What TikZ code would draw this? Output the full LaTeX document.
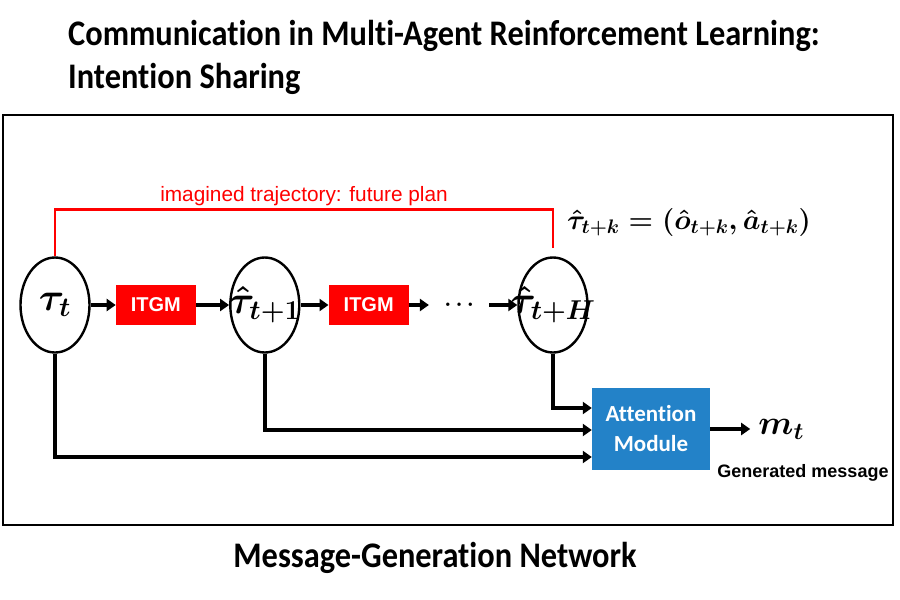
\RequirePackage{fix-cm}
\documentclass[tikz,border=0pt]{standalone}
\usepackage{amsmath,amssymb}
\usepackage{fontspec}
\usepackage{tikz}
\usetikzlibrary{arrows.meta,positioning,calc,shapes.geometric}
\newfontfamily\cfont[Ligatures=NoCommon]{Carlito}
\newfontfamily\hfont[FakeStretch=0.9,Ligatures=NoCommon]{Carlito}
\newfontfamily\afont{Liberation Sans}
\definecolor{itgmred}{HTML}{FF0000}
\definecolor{attnblue}{HTML}{2382C8}
\tikzset{
  state/.style={ellipse,draw,line width=2.4pt,minimum width=69pt,minimum height=95pt,inner sep=0pt},
  itgm/.style={fill=itgmred,text=white,font=\afont\bfseries\fontsize{20}{20}\selectfont,minimum width=80pt,minimum height=40pt,inner sep=0pt},
  attn/.style={fill=attnblue,text=white,font=\cfont\bfseries\fontsize{23}{30}\selectfont,align=center,minimum width=118pt,minimum height=82pt,inner sep=0pt},
  flow/.style={-{Triangle[length=9pt,width=12pt]},line width=3.4pt},
  planline/.style={draw=itgmred,line width=2.8pt},
  mathlbl/.style={font=\boldmath\fontsize{39}{39}\selectfont,inner sep=0pt},
  heading/.style={font=\hfont\bfseries\fontsize{36}{43}\selectfont,inner sep=0pt}
}

\begin{document}
\begin{tikzpicture}[x=1pt,y=-1pt]
  \useasboundingbox (0,0) rectangle (900,600);
  \node[heading,anchor=base west,align=left] (title) at (68,88) {Communication in Multi-Agent Reinforcement Learning:\\Intention Sharing};
  \draw[line width=2.8pt] (3,115) rectangle (893,525);
  % trajectory chain
  \node[state,label={[mathlbl]center:$\tau_t$}] (tau0) at (55,305) {};
  \node[itgm,right=25pt of tau0] (itgm1) {ITGM};
  \node[state,right=33pt of itgm1,label={[mathlbl]center:$\hat{\tau}_{t+1}$}] (tau1) {};
  \node[itgm,right=28pt of tau1] (itgm2) {ITGM};
  \node[minimum width=60pt,inner sep=0pt,font=\boldmath\fontsize{22}{22}\selectfont,right=20pt of itgm2] (dots) {$\ldots$};
  \node[state,right=28pt of dots,label={[mathlbl]center:$\hat{\tau}_{t+H}$}] (tauH) {};
  \draw[flow] (tau0.east)--(itgm1.west);
  \draw[flow] (itgm1.east)--(tau1.west);
  \draw[flow] (tau1.east)--(itgm2.west);
  \draw[flow] (itgm2.east)--(dots.west);
  \draw[flow] (dots.east)--(tauH.west);
  % future plan bracket
  \coordinate (planl) at ($(tau0.north)+(0,-47)$);
  \coordinate (planr) at (tauH.north |- planl);
  \draw[planline] (tau0.north)--(planl)--node[above=2pt,inner sep=0pt,text=itgmred,font=\afont\fontsize{20.8}{20.8}\selectfont]{imagined trajectory: future plan}(planr)--($(tauH.north)+(0,-8)$);
  \node[font=\boldmath\fontsize{28}{28}\selectfont] (traj) at (689,222) {$\hat{\tau}_{t+k}=(\hat{o}_{t+k},\hat{a}_{t+k})$};
  % attention
  \node[attn] (attn) at (651,429) {Attention\\Module};
  \draw[flow] (tauH.south) |- ([yshift=21pt]attn.west);
  \draw[flow] (tau1.south) |- ([yshift=-1pt]attn.west);
  \draw[flow] (tau0.south) |- ([yshift=-28pt]attn.west);
  \node[right=40pt of attn,inner sep=8pt,font=\boldmath\fontsize{34}{34}\selectfont] (mt) {$m_t$};
  \draw[flow] (attn.east)--(mt.west);
  \node[anchor=base,font=\afont\bfseries\fontsize{18}{18}\selectfont] (genmsg) at (803,477) {Generated message};
  \node[heading,anchor=base] (caption) at (435,567) {Message-Generation Network};
\end{tikzpicture}
\end{document}
